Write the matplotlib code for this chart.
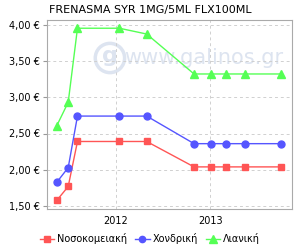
import matplotlib
matplotlib.use("Agg")
import matplotlib.pyplot as plt
import matplotlib.dates as mdates
from matplotlib.patches import Ellipse
from datetime import date

dates = [date(2011, 5, 16), date(2011, 6, 29), date(2011, 8, 4), date(2012, 1, 14),
         date(2012, 4, 29), date(2012, 10, 30), date(2013, 1, 5), date(2013, 3, 3),
         date(2013, 5, 15), date(2013, 10, 1)]
hospital = [1.58, 1.77, 2.39, 2.39, 2.39, 2.04, 2.04, 2.04, 2.04, 2.04]
wholesale = [1.83, 2.03, 2.74, 2.74, 2.74, 2.36, 2.36, 2.36, 2.36, 2.36]
retail = [2.61, 2.93, 3.95, 3.95, 3.87, 3.32, 3.32, 3.32, 3.32, 3.32]
series_names = ["Νοσοκομειακή", "Χονδρική", "Λιανική"]
title = "FRENASMA SYR 1MG/5ML FLX100ML"
yticks = [1.5, 2.0, 2.5, 3.0, 3.5, 4.0]

fig = plt.figure(figsize=(3, 2.5), dpi=100)
ax = fig.add_axes([0.157, 0.164, 0.815, 0.755])

d = mdates.date2num(dates)
ax.plot(d, hospital, color="#ff5555", marker="s", markersize=5, lw=1, label=series_names[0], zorder=3)
ax.plot(d, wholesale, color="#5555ff", marker="o", markersize=5, lw=1, label=series_names[1], zorder=3)
ax.plot(d, retail, color="#55ff55", marker="^", markersize=6, lw=1, label=series_names[2], zorder=3)

ax.set_xlim(mdates.date2num(date(2011, 4, 8)), mdates.date2num(date(2013, 11, 13)))
ax.set_ylim(1.46, 4.06)
ax.set_yticks(yticks)
ax.set_yticklabels([f"{v:.2f} €".replace(".", ",") for v in yticks], fontsize=7)
ax.xaxis.set_major_locator(mdates.YearLocator())
ax.xaxis.set_major_formatter(mdates.DateFormatter("%Y"))
ax.tick_params(axis="x", labelsize=7, length=0, pad=5)
ax.tick_params(axis="y", length=3, color="#999999", pad=2)
ax.grid(True, linestyle=(0, (3, 3)), color="#d0d0d0", lw=0.7)
for s in ax.spines.values():
    s.set_color("#aaaaaa")

wm = "#dde4f0"
ax.text(0.64, 0.80, "www.galinos.gr", transform=ax.transAxes, fontsize=15,
        color=wm, ha="center", va="center", zorder=1)
ax.add_patch(Ellipse((0.257, 0.80), 0.12, 0.155, transform=ax.transAxes,
                     fill=False, ec=wm, lw=2.5, zorder=1))
ax.text(0.257, 0.81, "g", transform=ax.transAxes, fontsize=16, fontweight="bold",
        color=wm, ha="center", va="center", zorder=1)

fig.text(0.5, 0.96, title, ha="center", va="center", fontsize=8)
fig.legend(loc="center", bbox_to_anchor=(0.5, 0.044), ncol=3, frameon=False,
           fontsize=7, handlelength=1.5, handletextpad=0.3, columnspacing=0.8,
           markerscale=0.9)
fig.savefig("out.png", dpi=100)
